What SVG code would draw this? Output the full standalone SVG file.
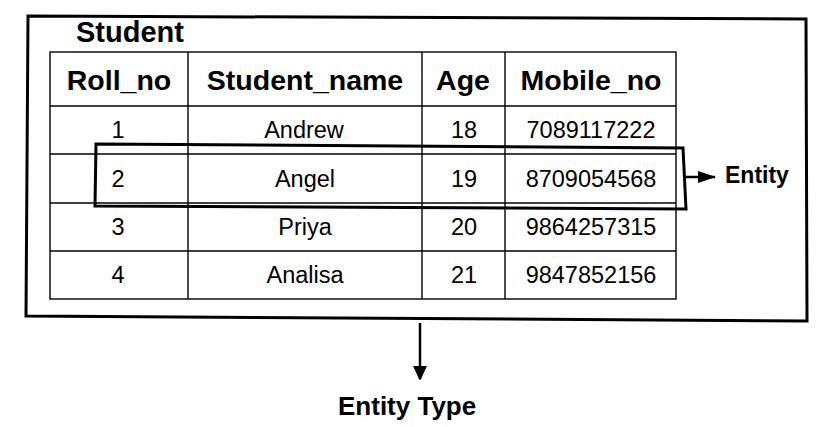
<svg xmlns="http://www.w3.org/2000/svg" width="827" height="427" viewBox="0 0 827 427">
<style>
.t{font-family:"Liberation Sans",Arial,sans-serif;fill:#000}
.h{font-size:28.5px;font-weight:bold;text-anchor:middle}
.c{font-size:23.5px;text-anchor:middle}
.grid{stroke:#000;stroke-width:1.4;fill:none}
.thick{stroke:#000;stroke-width:3;fill:none;stroke-linejoin:miter}
</style>
<defs>
<marker id="ah" markerWidth="18" markerHeight="12" refX="17" refY="6" orient="auto" markerUnits="userSpaceOnUse">
<path d="M0,0 L18,6 L0,12 Z" fill="#000"/>
</marker>
<marker id="ah2" markerWidth="14" markerHeight="15" refX="13" refY="7" orient="auto" markerUnits="userSpaceOnUse">
<path d="M0,0 L15,7 L0,14 Z" fill="#000"/>
</marker>
</defs>
<rect width="827" height="427" fill="#fff"/>
<g id="entity-type-box">
<path class="thick" d="M28,16 L806,19 L807,321 L26,316 Z"/>
<text class="t" x="76" y="42" font-size="29" font-weight="bold">Student</text>
</g>
<g id="table">
<rect class="grid" x="50" y="52" width="626" height="247"/>
<line class="grid" x1="188" y1="52" x2="188" y2="299"/>
<line class="grid" x1="422" y1="52" x2="422" y2="299"/>
<line class="grid" x1="505" y1="52" x2="505" y2="299"/>
<line class="grid" x1="50" y1="106" x2="676" y2="106"/>
<line class="grid" x1="50" y1="154" x2="676" y2="154"/>
<line class="grid" x1="50" y1="203" x2="676" y2="203"/>
<line class="grid" x1="50" y1="251" x2="676" y2="251"/>
<text class="t h" x="119" y="90">Roll_no</text>
<text class="t h" x="305" y="90">Student_name</text>
<text class="t h" x="463" y="90">Age</text>
<text class="t h" x="591" y="90">Mobile_no</text>
<text class="t c" x="118" y="138">1</text>
<text class="t c" x="304" y="138">Andrew</text>
<text class="t c" x="464" y="138">18</text>
<text class="t c" x="591" y="138">7089117222</text>
<text class="t c" x="118" y="187">2</text>
<text class="t c" x="305" y="187">Angel</text>
<text class="t c" x="464" y="187">19</text>
<text class="t c" x="591" y="187">8709054568</text>
<text class="t c" x="118" y="235">3</text>
<text class="t c" x="305" y="235">Priya</text>
<text class="t c" x="464" y="235">20</text>
<text class="t c" x="591" y="235">9864257315</text>
<text class="t c" x="118" y="283">4</text>
<text class="t c" x="305" y="283">Analisa</text>
<text class="t c" x="464" y="283">21</text>
<text class="t c" x="591" y="283">9847852156</text>
</g>
<g id="entity-highlight">
<path class="thick" d="M96,144 L683,148 L686,209 L95,206 Z"/>
</g>
<g id="connectors">
<line x1="686" y1="177" x2="715" y2="177" stroke="#000" stroke-width="2.5" marker-end="url(#ah)"/>
<line x1="420" y1="323" x2="420" y2="379" stroke="#000" stroke-width="2.5" marker-end="url(#ah2)"/>
</g>
<g id="entity-label">
<text class="t" x="725" y="183" font-size="23" font-weight="bold">Entity</text>
</g>
<g id="entity-type-label">
<text class="t" x="338" y="415" font-size="26" font-weight="bold">Entity Type</text>
</g>
</svg>
